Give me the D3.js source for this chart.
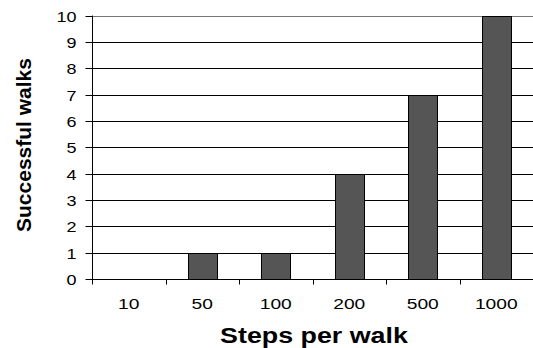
<!DOCTYPE html>
<html><head><meta charset="utf-8">
<script src="https://cdn.jsdelivr.net/npm/d3@7"></script>
<style>body{margin:0;background:#fff;}svg{display:block;font-family:"Liberation Sans",Arial,sans-serif;}</style>
</head><body>
<script>
const categories = ["10","50","100","200","500","1000"];
const values = [0,1,1,4,7,10];
const yTicks = [0,1,2,3,4,5,6,7,8,9,10];

const W=533,H=348;
const m={left:92,right:0,top:15.5,bottom:69};
const svg=d3.select("body").append("svg").attr("width",W).attr("height",H);
const x=d3.scaleBand().domain(categories).range([m.left,W-m.right]).paddingInner(0.6).paddingOuter(0.3);
const xb=d3.scaleBand().domain(categories).range([m.left,W-m.right]);
const y=d3.scaleLinear().domain([0,10]).range([H-m.bottom,m.top]);

// gridlines
svg.append("g").selectAll("line").data(yTicks.filter(d=>d>0)).join("line")
 .attr("x1",m.left).attr("x2",W).attr("y1",d=>Math.round(y(d))+0.5).attr("y2",d=>Math.round(y(d))+0.5)
 .attr("stroke",d=>d===10?"#777":"#000").attr("stroke-width",1);

// bars
svg.append("g").selectAll("rect").data(values.map((v,i)=>({c:categories[i],v})).filter(d=>d.v>0)).join("rect")
 .attr("x",d=>Math.round(x(d.c))+0.5).attr("width",Math.round(x.bandwidth()))
 .attr("y",d=>Math.round(y(d.v))+0.5).attr("height",d=>Math.round(y(0))-Math.round(y(d.v)))
 .attr("fill","#555555").attr("stroke","#000").attr("stroke-width",1);

// y axis
const ya=svg.append("g").attr("transform",`translate(${m.left+0.5},0)`);
ya.append("line").attr("y1",y(10)).attr("y2",y(0)).attr("stroke","#000");
const yt=ya.selectAll(".t").data(yTicks).join("g").attr("transform",d=>`translate(0,${Math.round(y(d))+0.5})`);
yt.append("line").attr("x1",-7).attr("x2",0).attr("stroke","#000");
yt.append("text").attr("transform","translate(-16,5.5) scale(1.2,1)").attr("text-anchor","end")
 .attr("font-size",15).attr("fill","#000").text(d3.format("d"));

// x axis
const xa=svg.append("g").attr("transform",`translate(0,${Math.round(y(0))+0.5})`);
xa.append("line").attr("x1",m.left).attr("x2",W).attr("stroke","#000");
xa.selectAll(".tk").data(categories.concat(["end"])).join("line")
 .attr("x1",(d,i)=>Math.round(m.left+i*xb.bandwidth())+0.5).attr("x2",(d,i)=>Math.round(m.left+i*xb.bandwidth())+0.5)
 .attr("y1",0).attr("y2",5).attr("stroke","#000");
xa.selectAll("text").data(categories).join("text")
 .attr("transform",d=>`translate(${xb(d)+xb.bandwidth()/2},29) scale(1.28,1)`).attr("text-anchor","middle")
 .attr("font-size",15).attr("fill","#000").text(d=>d);

// titles
svg.append("text").attr("transform","translate(314,343) scale(1.22,1)").attr("text-anchor","middle")
 .attr("font-size",22).attr("font-weight","bold").text("Steps per walk");
svg.append("text").attr("transform",`translate(31,145) rotate(-90)`).attr("text-anchor","middle")
 .attr("font-size",21).attr("font-weight","bold").text("Successful walks");
</script>
</body></html>
